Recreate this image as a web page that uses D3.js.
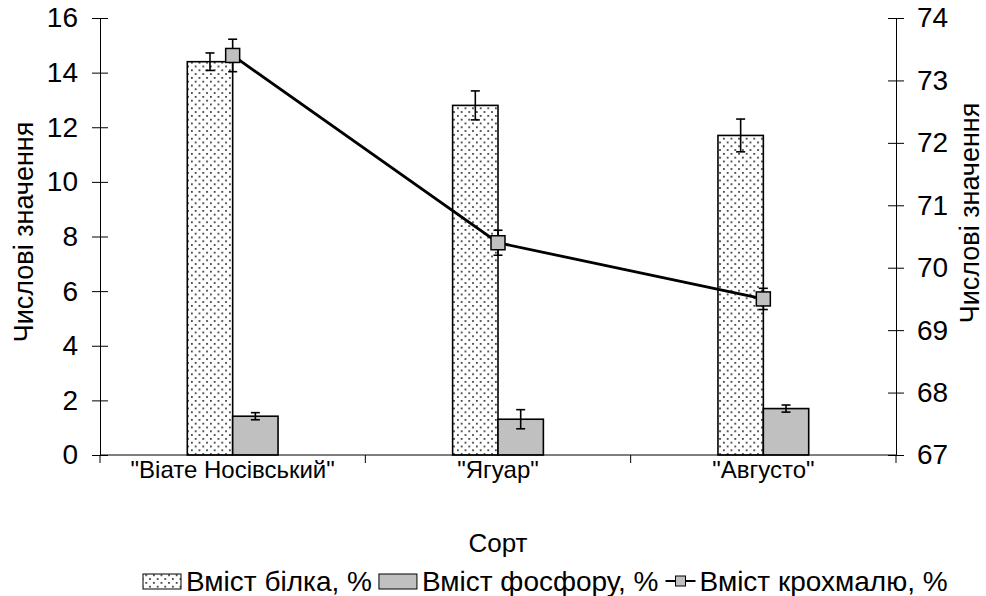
<!DOCTYPE html>
<html>
<head>
<meta charset="utf-8">
<script src="https://cdn.jsdelivr.net/npm/d3@7"></script>
<style>
  html, body { margin: 0; padding: 0; background: #fff; }
  svg text { font-family: "Liberation Sans", Arial, sans-serif; fill: #000; }
</style>
</head>
<body>
<svg id="chart" width="986" height="596"></svg>
<script>
// ---- data ----
const categories = ['"Віате Носівський"', '"Ягуар"', '"Августо"'];
const protein = [14.4, 12.8, 11.7];
const proteinErr = [0.32, 0.53, 0.6];
const phosphorus = [1.42, 1.31, 1.70];
const phosphorusErr = [0.13, 0.35, 0.13];
const starch = [73.4, 70.4, 69.5];
const starchErr = [0.26, 0.2, 0.17];
const leftTicks = [0, 2, 4, 6, 8, 10, 12, 14, 16];
const rightTicks = [67, 68, 69, 70, 71, 72, 73, 74];
const seriesNames = ["Вміст білка, %", "Вміст фосфору, %", "Вміст крохмалю, %"];
const xTitle = "Сорт";
const yTitle = "Числові значення";

// ---- layout ----
const svg = d3.select("#chart");
const L = 100, R = 896, T = 18, B = 455;
const FS_TICK = 28, FS_CAT = 24, FS_TITLE = 27, FS_LEG = 28;

const x = d3.scaleBand().domain(categories).range([L, R]).padding(0);
const yL = d3.scaleLinear().domain([0, 16]).range([B, T]);
const yR = d3.scaleLinear().domain([67, 74]).range([B, T]);
const bw = x.bandwidth() * 0.171;

// pattern
const defs = svg.append("defs");
const pat = defs.append("pattern").attr("id", "dots")
  .attr("patternUnits", "userSpaceOnUse").attr("width", 7.6).attr("height", 7.6);
pat.append("rect").attr("width", 7.6).attr("height", 7.6).attr("fill", "#fff");
pat.append("rect").attr("x", 1).attr("y", 1).attr("width", 1.7).attr("height", 1.7).attr("fill", "#2a2a2a");
pat.append("rect").attr("x", 4.8).attr("y", 4.8).attr("width", 1.7).attr("height", 1.7).attr("fill", "#2a2a2a");

// ---- bars ----
const cx = d => x(d) + x.bandwidth() / 2;
svg.append("g").selectAll("rect").data(categories).join("rect")
  .attr("x", d => cx(d) - bw).attr("y", (d, i) => yL(protein[i]))
  .attr("width", bw).attr("height", (d, i) => B - yL(protein[i]))
  .attr("fill", "url(#dots)").attr("stroke", "#000").attr("stroke-width", 1.6);
svg.append("g").selectAll("rect").data(categories).join("rect")
  .attr("x", d => cx(d)).attr("y", (d, i) => yL(phosphorus[i]))
  .attr("width", bw).attr("height", (d, i) => B - yL(phosphorus[i]))
  .attr("fill", "#c0c0c0").attr("stroke", "#000").attr("stroke-width", 1.6);

function errBars(xs, vals, errs, scale) {
  const g = svg.append("g").attr("stroke", "#000").attr("stroke-width", 1.6);
  vals.forEach((v, i) => {
    const xx = xs[i], y1 = scale(v + errs[i]), y2 = scale(v - errs[i]);
    g.append("line").attr("x1", xx).attr("x2", xx).attr("y1", y1).attr("y2", y2);
    g.append("line").attr("x1", xx - 4.5).attr("x2", xx + 4.5).attr("y1", y1).attr("y2", y1);
    g.append("line").attr("x1", xx - 4.5).attr("x2", xx + 4.5).attr("y1", y2).attr("y2", y2);
  });
}
errBars(categories.map(d => cx(d) - bw / 2), protein, proteinErr, yL);
errBars(categories.map(d => cx(d) + bw / 2), phosphorus, phosphorusErr, yL);

// ---- axes ----
svg.append("line").attr("x1", L).attr("x2", R).attr("y1", B).attr("y2", B)
  .attr("stroke", "#000").attr("stroke-width", 1);
const bounds = categories.map(d => x(d)).concat([R]);
svg.append("g").selectAll("line").data(bounds).join("line")
  .attr("x1", d => d).attr("x2", d => d).attr("y1", B).attr("y2", B + 8)
  .attr("stroke", "#000");
const xAxis = svg.append("g").attr("transform", `translate(0,${B})`)
  .call(d3.axisBottom(x).tickSize(0).tickPadding(6));
xAxis.select(".domain").remove();
xAxis.selectAll("text").style("font-size", FS_CAT + "px");

const la = svg.append("g").attr("transform", `translate(${L},0)`)
  .call(d3.axisLeft(yL).tickValues(leftTicks).tickSize(8).tickSizeOuter(0).tickPadding(14).tickFormat(d3.format("d")));
la.selectAll(".tick line").attr("x1", 8);
la.selectAll("text").style("font-size", FS_TICK + "px");
const ra = svg.append("g").attr("transform", `translate(${R},0)`)
  .call(d3.axisRight(yR).tickValues(rightTicks).tickSize(8).tickSizeOuter(0).tickPadding(13).tickFormat(d3.format("d")));
ra.selectAll(".tick line").attr("x1", -8);
ra.selectAll("text").style("font-size", FS_TICK + "px");
svg.selectAll(".domain").attr("stroke", "#000");
svg.selectAll(".tick line").attr("stroke", "#000");
svg.selectAll("g").attr("font-family", null);

// ---- line ----
const pts = categories.map((d, i) => [cx(d), yR(starch[i])]);
svg.append("path").attr("d", d3.line()(pts)).attr("fill", "none")
  .attr("stroke", "#000").attr("stroke-width", 2.8);
errBars(pts.map(p => p[0]), starch, starchErr, yR);
svg.append("g").selectAll("rect").data(pts).join("rect")
  .attr("x", p => p[0] - 7).attr("y", p => p[1] - 7).attr("width", 14).attr("height", 14)
  .attr("fill", "#c0c0c0").attr("stroke", "#000").attr("stroke-width", 1.5);

// ---- titles ----
svg.append("text").attr("x", 498).attr("y", 552).attr("text-anchor", "middle")
  .style("font-size", 26 + "px").text(xTitle);
svg.append("text").attr("transform", "translate(33,232) rotate(-90)").attr("text-anchor", "middle")
  .style("font-size", FS_TITLE + "px").text(yTitle);
svg.append("text").attr("transform", "translate(979,213) rotate(-90)").attr("text-anchor", "middle")
  .style("font-size", FS_TITLE + "px").text(yTitle);

// ---- legend ----
const lg = svg.append("g").attr("transform", "translate(0,581)");
let lx = 143;
lg.append("rect").attr("x", lx).attr("y", -7).attr("width", 38).attr("height", 15)
  .attr("fill", "url(#dots)").attr("stroke", "#000").attr("stroke-width", 1);
const t1 = lg.append("text").attr("x", lx + 43).attr("y", 10).style("font-size", FS_LEG + "px").text(seriesNames[0]);
lx = lx + 43 + t1.node().getComputedTextLength() + 7;
lg.append("rect").attr("x", lx).attr("y", -7).attr("width", 38).attr("height", 15)
  .attr("fill", "#c0c0c0").attr("stroke", "#000").attr("stroke-width", 1);
const t2 = lg.append("text").attr("x", lx + 43).attr("y", 10).style("font-size", FS_LEG + "px").text(seriesNames[1]);
lx = lx + 43 + t2.node().getComputedTextLength() + 7;
lg.append("line").attr("x1", lx).attr("x2", lx + 30).attr("y1", 0).attr("y2", 0)
  .attr("stroke", "#000").attr("stroke-width", 2);
lg.append("rect").attr("x", lx + 10).attr("y", -5).attr("width", 10).attr("height", 10)
  .attr("fill", "#c0c0c0").attr("stroke", "#000").attr("stroke-width", 1);
lg.append("text").attr("x", lx + 34).attr("y", 10).style("font-size", FS_LEG + "px").text(seriesNames[2]);
</script>
</body>
</html>
